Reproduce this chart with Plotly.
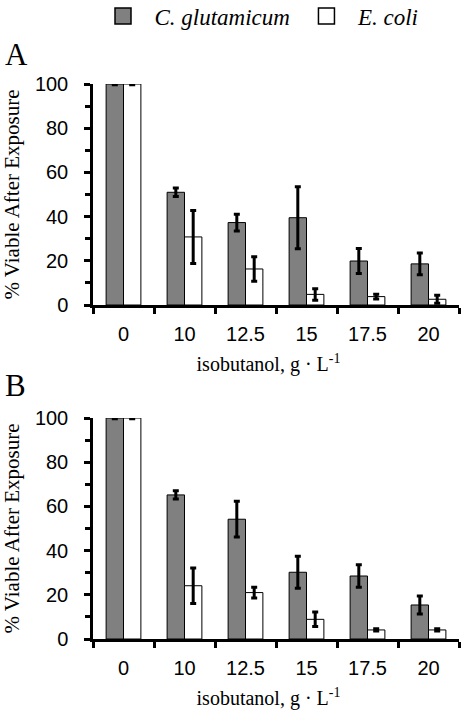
import plotly.graph_objects as go

W, H = 462, 712

categories = ["0", "10", "12.5", "15", "17.5", "20"]

# Panel A
a_cg = [100, 51, 37.3, 39.5, 19.9, 18.6]
a_cg_err = [0.3, 1.9, 3.8, 14, 5.7, 4.9]
a_ec = [100, 30.8, 16.3, 4.8, 3.8, 2.6]
a_ec_err = [0.3, 12, 5.5, 2.6, 1.1, 1.8]

# Panel B
b_cg = [100, 65.2, 54.2, 30.2, 28.5, 15.4]
b_cg_err = [0.3, 1.9, 8.1, 7.2, 5.1, 4.1]
b_ec = [100, 24.1, 21, 8.9, 4.1, 4.1]
b_ec_err = [0.3, 8, 2.4, 3.3, 0.5, 0.5]

y_ticks = [0, 20, 40, 60, 80, 100]

series_names = ["<i>C. glutamicum</i>", "<i>E. coli</i>"]

GRAY = "#808080"
serif = "Liberation Serif, Times New Roman, serif"
sans = "Liberation Sans, Arial, sans-serif"

fig = go.Figure()

def add_panel(cg, cg_err, ec, ec_err, xa, ya):
    fig.add_trace(go.Bar(
        x=categories, y=cg, name=series_names[0],
        marker=dict(color=GRAY, line=dict(color="black", width=1)),
        error_y=dict(type="data", array=cg_err, color="black", thickness=3, width=3),
        xaxis=xa, yaxis=ya, showlegend=False, cliponaxis=False,
    ))
    fig.add_trace(go.Bar(
        x=categories, y=ec, name=series_names[1],
        marker=dict(color="white", line=dict(color="black", width=1)),
        error_y=dict(type="data", array=ec_err, color="black", thickness=3, width=3),
        xaxis=xa, yaxis=ya, showlegend=False, cliponaxis=False,
    ))

add_panel(a_cg, a_cg_err, a_ec, a_ec_err, "x", "y")
add_panel(b_cg, b_cg_err, b_ec, b_ec_err, "x2", "y2")

# legend entries (larger square swatches than the bar legend symbol)
NB = "&nbsp;"
for nm, col, pre, post in [(series_names[0], GRAY, NB * 2, NB * 2),
                           (series_names[1], "white", NB * 2, "")]:
    fig.add_trace(go.Scatter(
        x=[None], y=[None], mode="markers", name=pre + nm + post,
        marker=dict(symbol="square", size=24, color=col, line=dict(color="black", width=1.5)),
        showlegend=True, hoverinfo="skip",
    ))

xdom = [93 / W, 459 / W]
ydomA = [1 - 305 / H, 1 - 84 / H]
ydomB = [1 - 639 / H, 1 - 418 / H]

def xaxis_cfg(anchor):
    return dict(
        domain=xdom, anchor=anchor, type="category",
        showline=True, linecolor="black", linewidth=2.5,
        ticks="outside", tickson="boundaries", ticklen=6, tickwidth=2.5, tickcolor="black",
        tickfont=dict(family=sans, size=20, color="black"),
        ticklabelstandoff=9,
        showgrid=False, zeroline=False, automargin=False,
        title=dict(text="isobutanol, g · L<sup>-1</sup>&nbsp;&nbsp;&nbsp;",
                   font=dict(family=serif, size=20, color="black"), standoff=14),
    )

def yaxis_cfg(anchor, dom):
    return dict(
        domain=dom, anchor=anchor, range=[0, 100],
        tickvals=y_ticks,
        showline=True, linecolor="black", linewidth=2.5,
        ticks="outside", ticklen=6, tickwidth=2.5, tickcolor="black",
        minor=dict(dtick=10, ticks="outside", ticklen=5, tickwidth=2.5, tickcolor="black"),
        tickfont=dict(family=sans, size=20, color="black"),
        ticklabelstandoff=12,
        showgrid=False, zeroline=False, automargin=False,
        title=dict(text="% Viable After Exposure",
                   font=dict(family=serif, size=21, color="black"), standoff=24),
    )

fig.update_layout(
    width=W, height=H,
    margin=dict(l=0, r=0, t=0, b=0, autoexpand=False),
    paper_bgcolor="white", plot_bgcolor="white",
    barmode="group", bargap=0.43, bargroupgap=0,
    xaxis=xaxis_cfg("y"), yaxis=yaxis_cfg("x", ydomA),
    xaxis2=xaxis_cfg("y2"), yaxis2=yaxis_cfg("x2", ydomB),
    legend=dict(
        orientation="h", x=103 / W, xanchor="left", y=1 - 16 / H, yanchor="middle",
        font=dict(family=serif, size=23, color="black"),
        bgcolor="rgba(0,0,0,0)", itemclick=False,
    ),
    annotations=[
        dict(text="A", x=3 / W, y=1 - 54 / H, xref="paper", yref="paper",
             xanchor="left", yanchor="middle", showarrow=False,
             font=dict(family=serif, size=31, color="black")),
        dict(text="B", x=3 / W, y=1 - 385 / H, xref="paper", yref="paper",
             xanchor="left", yanchor="middle", showarrow=False,
             font=dict(family=serif, size=31, color="black")),
    ],
)

fig.write_html(
    "out.html",
    config={"displayModeBar": False},
    post_script="document.body.style.margin='0';document.body.style.padding='0';",
)
